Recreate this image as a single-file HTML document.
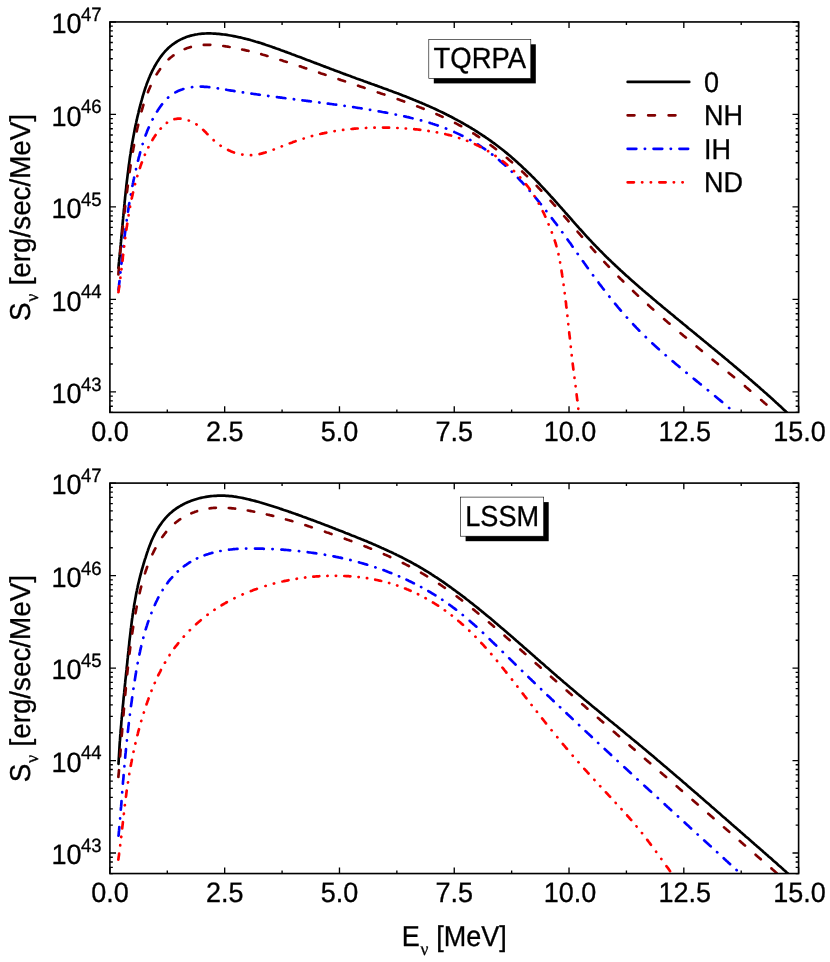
<!DOCTYPE html>
<html><head><meta charset="utf-8"><title>S_nu spectra</title>
<style>html,body{margin:0;padding:0;background:#fff}svg{display:block;will-change:transform}text{font-family:"Liberation Sans",sans-serif;fill:#000;text-rendering:geometricPrecision;stroke:#000;stroke-width:0.3px;stroke-linejoin:round}.nu{font-family:"Liberation Serif",serif}</style></head><body>
<svg width="830" height="962" viewBox="0 0 830 962">
<rect x="0" y="0" width="830" height="962" fill="#ffffff"/>
<defs>
<clipPath id="c1"><rect x="109.90" y="21.95" width="688.70" height="390.45"/></clipPath>
<clipPath id="c2"><rect x="109.90" y="483.10" width="688.70" height="390.45"/></clipPath>
</defs>
<g clip-path="url(#c1)" fill="none" stroke-width="2.68" stroke-linecap="round" stroke-linejoin="round">
<path d="M118.4 267.9 118.6 266.3 118.7 264.7 118.9 263.0 119.1 261.4 119.2 259.7 119.4 258.1 119.6 256.4 119.7 254.8 119.9 253.2 120.1 251.5 120.2 249.9 120.4 248.2 120.5 246.6 120.7 244.9 120.8 243.3 121.0 241.7 121.1 240.0 121.3 238.4 121.4 236.7 121.6 235.1 121.7 233.4 121.9 231.8 122.0 230.2 122.2 228.5 122.3 226.9 122.5 225.2 122.6 223.6 122.8 222.0 122.9 220.3 123.1 218.7 123.2 217.0 123.4 215.4 123.5 213.8 123.7 212.1 123.8 210.5 124.0 208.8 124.2 207.2 124.3 205.6 124.5 203.9 124.6 202.3 124.8 200.6 125.0 199.0 125.1 197.4 125.3 195.7 125.5 194.1 125.6 192.5 125.8 190.8 126.0 189.2 126.2 187.6 126.3 185.9 126.5 184.3 126.7 182.7 126.9 181.0 127.1 179.4 127.3 177.8 127.5 176.1 127.7 174.5 127.9 172.9 128.1 171.3 128.3 169.6 128.5 168.0 128.7 166.4 128.9 164.7 129.2 163.1 129.4 161.5 129.6 159.9 129.8 158.2 130.1 156.6 130.3 155.0 130.6 153.4 130.8 151.7 131.1 150.1 131.3 148.5 131.6 146.9 131.9 145.3 132.1 143.6 132.4 142.0 132.7 140.4 133.0 138.8 133.3 137.2 133.6 135.5 133.9 133.9 134.2 132.3 134.5 130.7 134.8 129.1 135.1 127.5 135.5 125.9 135.8 124.2 136.2 122.6 136.5 121.0 136.9 119.4 137.2 117.8 137.6 116.2 138.0 114.6 138.4 113.0 138.7 111.4 139.1 109.8 139.5 108.2 139.9 106.6 140.4 105.0 140.8 103.4 141.2 101.8 141.7 100.2 142.1 98.6 142.6 97.0 143.0 95.4 143.5 93.8 144.0 92.2 144.5 90.6 145.0 89.0 145.5 87.5 146.1 85.9 146.6 84.3 147.2 82.8 147.8 81.2 148.4 79.7 149.0 78.1 149.7 76.6 150.3 75.1 151.0 73.6 151.7 72.1 152.4 70.6 153.2 69.1 154.0 67.6 154.7 66.2 155.6 64.7 156.4 63.3 157.3 61.9 158.2 60.5 159.1 59.1 160.0 57.7 161.0 56.4 162.0 55.1 163.0 53.8 164.1 52.5 165.1 51.3 166.3 50.1 167.4 49.0 168.6 47.8 169.8 46.8 171.0 45.7 172.3 44.7 173.6 43.8 174.9 42.9 176.3 42.0 177.6 41.2 179.0 40.4 180.4 39.6 181.9 38.9 183.3 38.3 184.8 37.7 186.3 37.1 187.8 36.6 189.4 36.1 190.9 35.6 192.5 35.2 194.1 34.9 195.7 34.5 197.3 34.3 198.9 34.0 200.5 33.8 202.1 33.7 203.8 33.6 205.4 33.5 207.1 33.4 208.7 33.4 210.4 33.4 212.1 33.5 213.7 33.6 215.4 33.7 217.0 33.8 218.7 33.9 220.4 34.1 222.0 34.3 223.7 34.5 225.3 34.7 227.0 34.9 228.6 35.2 230.3 35.5 231.9 35.8 233.5 36.1 235.1 36.4 236.8 36.7 238.4 37.1 240.0 37.4 241.6 37.8 243.2 38.2 244.8 38.6 246.4 39.0 248.0 39.4 249.6 39.8 251.2 40.3 252.8 40.7 254.4 41.2 256.0 41.7 257.6 42.1 259.2 42.6 260.7 43.1 262.3 43.6 263.9 44.1 265.5 44.7 267.0 45.2 268.6 45.7 270.2 46.3 271.7 46.8 273.3 47.4 274.9 47.9 276.4 48.5 278.0 49.0 279.5 49.6 281.1 50.2 282.6 50.7 284.2 51.3 285.7 51.9 287.3 52.4 288.8 53.0 290.4 53.6 291.9 54.2 293.5 54.7 295.0 55.3 296.5 55.9 298.1 56.5 299.6 57.0 301.1 57.6 302.7 58.2 304.2 58.8 305.8 59.4 307.3 60.0 308.8 60.5 310.3 61.1 311.9 61.7 313.4 62.3 314.9 62.9 316.5 63.4 318.0 64.0 319.5 64.6 321.1 65.2 322.6 65.8 324.1 66.4 325.7 66.9 327.2 67.5 328.7 68.1 330.2 68.7 331.8 69.3 333.3 69.8 334.8 70.4 336.4 71.0 337.9 71.6 339.4 72.1 341.0 72.7 342.5 73.3 344.0 73.9 345.6 74.4 347.1 75.0 348.7 75.6 350.2 76.1 351.7 76.7 353.3 77.3 354.8 77.8 356.4 78.4 357.9 78.9 359.5 79.5 361.0 80.1 362.5 80.6 364.1 81.2 365.6 81.7 367.2 82.3 368.7 82.9 370.3 83.4 371.8 84.0 373.4 84.5 374.9 85.1 376.5 85.6 378.0 86.2 379.6 86.8 381.1 87.3 382.7 87.9 384.2 88.5 385.8 89.0 387.3 89.6 388.9 90.2 390.4 90.7 392.0 91.3 393.5 91.9 395.0 92.5 396.6 93.1 398.1 93.6 399.7 94.2 401.2 94.8 402.7 95.4 404.3 96.0 405.8 96.6 407.4 97.2 408.9 97.8 410.4 98.4 411.9 99.0 413.5 99.7 415.0 100.3 416.5 100.9 418.0 101.5 419.6 102.2 421.1 102.8 422.6 103.5 424.1 104.1 425.6 104.8 427.1 105.4 428.7 106.1 430.2 106.8 431.7 107.4 433.2 108.1 434.7 108.8 436.2 109.5 437.7 110.2 439.1 110.9 440.6 111.6 442.1 112.3 443.6 113.0 445.1 113.8 446.5 114.5 448.0 115.2 449.5 116.0 451.0 116.7 452.4 117.5 453.9 118.3 455.3 119.1 456.8 119.8 458.2 120.6 459.7 121.4 461.1 122.2 462.6 123.0 464.0 123.8 465.4 124.7 466.8 125.5 468.3 126.3 469.7 127.2 471.1 128.0 472.5 128.9 473.9 129.7 475.3 130.6 476.7 131.5 478.1 132.4 479.5 133.3 480.8 134.1 482.2 135.1 483.6 136.0 485.0 136.9 486.3 137.8 487.7 138.7 489.0 139.7 490.4 140.6 491.7 141.6 493.0 142.6 494.4 143.5 495.7 144.5 497.0 145.5 498.3 146.5 499.6 147.5 500.9 148.5 502.2 149.5 503.5 150.5 504.8 151.6 506.1 152.6 507.3 153.6 508.6 154.7 509.9 155.8 511.1 156.8 512.4 157.9 513.6 159.0 514.8 160.1 516.1 161.2 517.3 162.3 518.5 163.4 519.7 164.5 520.9 165.6 522.1 166.7 523.3 167.9 524.5 169.0 525.7 170.1 526.9 171.3 528.1 172.4 529.3 173.6 530.5 174.7 531.6 175.9 532.8 177.1 534.0 178.2 535.1 179.4 536.3 180.6 537.4 181.8 538.6 183.0 539.7 184.2 540.8 185.4 542.0 186.6 543.1 187.8 544.2 189.0 545.3 190.2 546.5 191.4 547.6 192.6 548.7 193.8 549.8 195.0 550.9 196.3 552.0 197.5 553.1 198.7 554.2 199.9 555.3 201.2 556.4 202.4 557.5 203.6 558.6 204.8 559.7 206.1 560.8 207.3 561.9 208.5 563.0 209.8 564.1 211.0 565.1 212.3 566.2 213.5 567.3 214.7 568.4 216.0 569.5 217.2 570.6 218.4 571.7 219.7 572.7 220.9 573.8 222.1 574.9 223.4 576.0 224.6 577.1 225.8 578.2 227.0 579.3 228.3 580.4 229.5 581.5 230.7 582.6 231.9 583.7 233.2 584.8 234.4 585.9 235.6 587.0 236.8 588.1 238.0 589.2 239.2 590.4 240.4 591.5 241.6 592.6 242.8 593.7 244.0 594.9 245.2 596.0 246.4 597.1 247.5 598.3 248.7 599.4 249.9 600.6 251.1 601.8 252.2 602.9 253.4 604.1 254.6 605.2 255.7 606.4 256.9 607.6 258.0 608.8 259.2 610.0 260.3 611.1 261.4 612.3 262.6 613.5 263.7 614.7 264.8 615.9 266.0 617.1 267.1 618.3 268.2 619.5 269.3 620.7 270.5 622.0 271.6 623.2 272.7 624.4 273.8 625.6 274.9 626.8 276.0 628.1 277.1 629.3 278.2 630.5 279.3 631.8 280.4 633.0 281.5 634.2 282.6 635.5 283.7 636.7 284.7 637.9 285.8 639.2 286.9 640.4 288.0 641.7 289.1 642.9 290.2 644.2 291.2 645.4 292.3 646.7 293.4 648.0 294.4 649.2 295.5 650.5 296.6 651.7 297.6 653.0 298.7 654.2 299.8 655.5 300.8 656.8 301.9 658.0 303.0 659.3 304.0 660.6 305.1 661.8 306.1 663.1 307.2 664.4 308.2 665.6 309.3 666.9 310.3 668.2 311.4 669.4 312.4 670.7 313.5 672.0 314.5 673.3 315.6 674.5 316.6 675.8 317.7 677.1 318.7 678.3 319.8 679.6 320.8 680.9 321.9 682.2 322.9 683.4 324.0 684.7 325.0 686.0 326.1 687.2 327.1 688.5 328.2 689.8 329.2 691.1 330.2 692.3 331.3 693.6 332.3 694.9 333.4 696.2 334.4 697.4 335.5 698.7 336.5 700.0 337.6 701.2 338.6 702.5 339.6 703.8 340.7 705.1 341.7 706.3 342.8 707.6 343.8 708.9 344.9 710.1 345.9 711.4 347.0 712.7 348.0 713.9 349.0 715.2 350.1 716.5 351.1 717.8 352.2 719.0 353.2 720.3 354.3 721.6 355.3 722.8 356.4 724.1 357.4 725.3 358.5 726.6 359.5 727.9 360.6 729.1 361.7 730.4 362.7 731.7 363.8 732.9 364.8 734.2 365.9 735.4 366.9 736.7 368.0 737.9 369.1 739.2 370.1 740.5 371.2 741.7 372.3 743.0 373.3 744.2 374.4 745.5 375.5 746.7 376.5 748.0 377.6 749.2 378.7 750.5 379.7 751.7 380.8 753.0 381.9 754.2 383.0 755.4 384.1 756.7 385.1 757.9 386.2 759.2 387.3 760.4 388.4 761.6 389.5 762.9 390.6 764.1 391.7 765.3 392.7 766.6 393.8 767.8 394.9 769.0 396.0 770.2 397.1 771.5 398.2 772.7 399.3 773.9 400.4 775.1 401.6 776.3 402.7 777.6 403.8 778.8 404.9 780.0 406.0 781.2 407.1 782.4 408.3 783.6 409.4 784.8 410.5 786.0 411.6 787.2 412.8 788.4 413.9 789.6 415.0 790.8 416.2 792.0 417.3" stroke="#000000"/>
<path d="M118.4 274.5 118.4 274.2 118.5 273.2 118.5 272.2 118.6 271.3 118.7 270.3 118.8 269.3 118.9 268.4 118.9 267.7M120.1 253.9 120.1 253.9 120.2 252.9 120.3 252.0 120.4 251.0 120.5 250.0 120.6 249.1 120.7 248.1 120.8 247.2M122.2 233.4 122.2 233.3 122.3 232.3 122.4 231.4 122.5 230.4 122.6 229.4 122.7 228.5 122.8 227.5 122.9 226.6M124.4 212.9 124.4 212.7 124.6 211.8 124.7 210.8 124.8 209.8 124.9 208.9 125.0 207.9 125.1 206.9 125.2 206.1M126.9 192.3 126.9 192.2 127.1 191.2 127.2 190.3 127.3 189.3 127.4 188.3 127.6 187.4 127.7 186.4 127.8 185.6M129.6 172.0 129.7 171.7 129.8 170.7 130.0 169.8 130.1 168.8 130.3 167.9 130.4 166.9 130.5 166.0 130.6 165.3M132.8 151.7 132.8 151.6 133.0 150.7 133.2 149.7 133.3 148.8 133.5 147.8 133.7 146.9 133.9 145.9 134.0 145.0M136.7 131.4 136.7 131.3 136.9 130.4 137.1 129.5 137.3 128.5 137.5 127.6 137.8 126.6 138.0 125.7 138.2 124.8M141.5 111.4 141.6 111.3 141.8 110.3 142.1 109.4 142.4 108.5 142.6 107.5 142.9 106.6 143.2 105.7 143.4 104.9M147.9 92.2 147.9 92.2 148.3 91.3 148.6 90.4 149.0 89.5 149.4 88.6 149.8 87.7 150.2 86.8 150.5 86.1M156.6 74.4 156.7 74.3 157.2 73.4 157.7 72.6 158.3 71.8 158.8 71.0 159.4 70.2 159.9 69.4 160.1 69.1M168.6 59.4 168.8 59.2 169.5 58.5 170.2 57.9 171.0 57.3 171.7 56.7 172.5 56.1 173.2 55.5 173.5 55.4M184.7 49.1 184.8 49.0 185.7 48.7 186.6 48.3 187.5 48.0 188.4 47.7 189.3 47.4 190.2 47.2 190.8 47.0M203.8 44.9 204.0 44.9 204.9 44.9 205.9 44.8 206.8 44.8 207.8 44.8 208.8 44.8 209.7 44.8 210.3 44.8M223.3 46.0 223.6 46.0 224.6 46.2 225.6 46.3 226.5 46.5 227.5 46.6 228.5 46.8 229.4 47.0 229.6 47.0M242.2 49.5 242.2 49.5 243.2 49.7 244.1 49.9 245.1 50.1 246.0 50.4 247.0 50.6 248.0 50.8 248.5 50.9M261.2 54.2 261.2 54.3 262.1 54.5 263.1 54.8 264.0 55.0 265.0 55.3 265.9 55.6 266.8 55.9 267.5 56.0M280.4 60.0 280.5 60.0 281.5 60.3 282.4 60.6 283.3 60.9 284.2 61.2 285.2 61.5 286.1 61.8 286.8 62.0M299.8 66.3 300.0 66.3 300.9 66.6 301.8 66.9 302.7 67.2 303.6 67.6 304.6 67.9 305.5 68.2 306.2 68.4M319.1 72.7 319.2 72.7 320.1 73.0 321.1 73.4 322.0 73.7 322.9 74.0 323.8 74.3 324.7 74.6 325.5 74.8M338.5 79.2 338.7 79.2 339.6 79.6 340.6 79.9 341.5 80.2 342.4 80.5 343.3 80.8 344.2 81.1 345.0 81.3M358.1 85.7 358.2 85.8 359.1 86.1 360.0 86.4 361.0 86.7 361.9 87.0 362.8 87.3 363.7 87.6 364.6 87.9M377.8 92.4 378.0 92.5 379.0 92.8 379.9 93.1 380.8 93.4 381.7 93.7 382.6 94.0 383.6 94.3 384.4 94.6M397.7 99.2 398.0 99.3 398.9 99.6 399.8 99.9 400.7 100.3 401.7 100.6 402.6 100.9 403.5 101.2 404.2 101.5M417.2 106.3 417.5 106.4 418.4 106.8 419.3 107.1 420.2 107.5 421.2 107.8 422.1 108.2 423.0 108.5 423.6 108.8M436.4 114.1 436.5 114.1 437.3 114.5 438.2 114.9 439.1 115.3 440.0 115.7 440.9 116.1 441.8 116.5 442.6 116.9M455.1 123.0 455.1 123.0 456.0 123.4 456.9 123.9 457.7 124.3 458.6 124.8 459.4 125.3 460.3 125.7 461.1 126.2 461.2 126.2M473.3 133.4 473.4 133.4 474.2 133.9 475.0 134.4 475.8 135.0 476.6 135.5 477.4 136.0 478.2 136.5 479.1 137.1 479.1 137.1M490.5 145.1 490.7 145.2 491.5 145.8 492.3 146.3 493.0 146.9 493.8 147.5 494.6 148.1 495.4 148.7 496.0 149.2M506.8 157.9 507.0 158.0 507.7 158.6 508.4 159.2 509.2 159.9 509.9 160.5 510.7 161.1 511.4 161.8 512.0 162.3M522.2 171.5 522.2 171.5 522.9 172.2 523.6 172.8 524.3 173.5 525.0 174.2 525.7 174.9 526.4 175.5 527.0 176.2M536.7 185.8 536.9 186.1 537.6 186.8 538.2 187.5 538.9 188.2 539.6 188.9 540.2 189.6 540.9 190.3 541.3 190.7M550.6 200.8 550.8 201.0 551.4 201.7 552.1 202.4 552.7 203.2 553.3 203.9 554.0 204.6 554.6 205.3 555.1 205.8M564.2 216.2 564.3 216.3 564.9 217.0 565.5 217.7 566.2 218.5 566.8 219.2 567.4 219.9 568.1 220.7 568.6 221.3M577.6 231.7 577.8 232.0 578.4 232.7 579.1 233.4 579.7 234.2 580.3 234.9 581.0 235.6 581.6 236.4 582.0 236.8M590.9 247.0 591.0 247.1 591.6 247.8 592.2 248.5 592.9 249.3 593.5 250.0 594.2 250.7 594.8 251.5 595.3 252.0M604.3 261.9 604.4 262.0 605.0 262.7 605.7 263.4 606.3 264.1 607.0 264.8 607.7 265.5 608.3 266.2 608.9 266.8M618.5 276.7 618.7 276.9 619.4 277.6 620.0 278.3 620.7 279.0 621.4 279.6 622.1 280.3 622.8 281.0 623.3 281.5M633.1 291.0 633.2 291.1 633.9 291.8 634.6 292.5 635.3 293.1 636.0 293.8 636.7 294.4 637.4 295.1 638.0 295.7M648.1 304.9 648.1 305.0 648.8 305.6 649.6 306.3 650.3 306.9 651.0 307.6 651.7 308.2 652.4 308.8 653.2 309.5 653.3 309.6M664.1 319.1 664.1 319.1 664.8 319.7 665.5 320.4 666.3 321.0 667.0 321.6 667.7 322.3 668.5 322.9 669.2 323.5 669.5 323.7M680.5 333.1 680.6 333.2 681.3 333.8 682.0 334.4 682.8 335.0 683.5 335.7 684.3 336.3 685.0 336.9 685.8 337.5 685.9 337.6M696.6 346.5 696.7 346.6 697.5 347.2 698.2 347.9 699.0 348.5 699.7 349.1 700.5 349.7 701.2 350.3 701.9 350.9M712.6 359.7 712.8 359.8 713.5 360.4 714.3 361.0 715.0 361.6 715.8 362.2 716.5 362.8 717.3 363.4 717.9 364.0M728.7 372.8 728.8 372.9 729.5 373.5 730.3 374.1 731.0 374.7 731.8 375.3 732.5 375.9 733.3 376.6 734.0 377.2 734.1 377.2M744.9 386.2 744.9 386.3 745.7 386.9 746.4 387.5 747.2 388.1 747.9 388.7 748.6 389.4 749.4 390.0 750.1 390.6 750.2 390.7M761.1 400.0 761.2 400.0 761.9 400.6 762.6 401.3 763.4 401.9 764.1 402.5 764.8 403.2 765.6 403.8 766.3 404.4 766.4 404.5M777.0 413.7 777.1 413.8 777.8 414.4 778.6 415.1 779.3 415.7 780.0 416.4 780.8 417.0 781.5 417.7 782.0 418.1" stroke="#800000"/>
<path d="M118.5 289.8 118.5 289.5 118.7 288.3 118.8 287.1 119.0 285.9 119.1 284.7 119.2 283.5 119.4 282.3 119.5 281.2M120.5 272.6 120.5 272.4 120.5 272.3M121.4 263.8 121.4 263.7 121.6 262.5 121.7 261.3 121.8 260.2 122.0 259.0 122.1 257.8 122.2 256.6 122.4 255.4 122.4 255.1M123.4 246.5 123.4 246.4 123.4 246.2M124.4 237.7 124.5 237.4 124.6 236.2 124.8 235.0 124.9 233.8 125.1 232.6 125.2 231.4 125.4 230.2 125.5 229.0M126.7 220.5 126.7 220.4 126.7 220.2M128.0 211.7 128.0 211.4 128.2 210.2 128.4 209.0 128.6 207.8 128.8 206.7 128.9 205.5 129.1 204.3 129.3 203.1M130.8 194.6 130.8 194.5 130.9 194.3M132.4 186.0 132.4 185.9 132.7 184.7 132.9 183.5 133.2 182.3 133.4 181.2 133.6 180.0 133.9 178.8 134.1 177.6 134.1 177.6M136.0 169.3 136.0 169.1 136.0 169.0M138.0 160.7 138.1 160.6 138.4 159.4 138.6 158.2 138.9 157.1 139.3 155.9 139.6 154.7 139.9 153.6 140.2 152.4 140.2 152.4M142.6 144.1 142.6 144.0 142.7 143.9M145.5 135.6 145.5 135.5 146.0 134.1 146.6 132.7 147.1 131.3 147.7 129.9 148.3 128.5 148.8 127.4M152.5 119.5 152.6 119.3 152.7 119.2M157.0 111.6 157.2 111.4 157.8 110.3 158.5 109.3 159.2 108.2 159.9 107.2 160.6 106.2 161.4 105.1 162.1 104.2M168.0 97.7 168.1 97.6 168.2 97.5M175.3 92.5 175.3 92.4 176.6 91.8 177.9 91.1 179.3 90.5 180.6 90.0 182.0 89.5 183.3 89.0 183.4 89.0M191.9 87.2 191.9 87.2 192.2 87.1 192.2 87.1M200.7 86.6 200.8 86.6 202.0 86.7 203.2 86.7 204.4 86.8 205.6 86.8 206.8 86.9 208.0 87.0 209.2 87.2 209.3 87.2M217.7 88.3 217.9 88.4 218.0 88.4M226.2 89.7 226.4 89.8 227.6 90.0 228.8 90.2 230.0 90.4 231.2 90.6 232.4 90.7 233.6 90.9 234.5 91.1M242.8 92.4 243.0 92.4 243.1 92.4M251.4 93.6 251.4 93.6 252.6 93.8 253.8 94.0 255.0 94.1 256.2 94.3 257.4 94.5 258.6 94.6 259.8 94.8 259.8 94.8M268.1 95.9 268.2 95.9 268.4 96.0M276.9 97.1 277.2 97.1 278.3 97.3 279.5 97.4 280.7 97.6 281.9 97.7 283.1 97.9 284.3 98.0 285.4 98.2M293.8 99.2 293.9 99.2 294.1 99.3M302.4 100.3 302.5 100.3 303.7 100.5 304.9 100.6 306.1 100.8 307.3 100.9 308.5 101.1 309.7 101.2 310.9 101.4 310.9 101.4M319.2 102.4 319.5 102.5 319.5 102.5M327.8 103.6 327.8 103.6 329.0 103.7 330.2 103.9 331.4 104.0 332.6 104.2 333.8 104.4 335.0 104.5 336.1 104.7 336.2 104.7M344.5 105.8 344.5 105.8 344.7 105.9M353.1 107.1 353.4 107.1 354.5 107.3 355.7 107.5 356.9 107.7 358.1 107.9 359.3 108.0 360.5 108.2 361.6 108.4M369.9 109.8 370.0 109.8 370.2 109.8M378.6 111.3 378.9 111.3 380.0 111.5 381.2 111.7 382.4 112.0 383.6 112.2 384.8 112.4 386.0 112.6 387.1 112.8 387.2 112.8M395.6 114.5 395.7 114.5 395.9 114.6M404.2 116.3 404.3 116.3 405.5 116.6 406.7 116.9 407.9 117.1 409.1 117.4 410.2 117.7 411.4 118.0 412.6 118.2 412.6 118.3M420.9 120.4 421.1 120.4 421.2 120.4M429.5 122.8 429.6 122.8 430.7 123.2 431.9 123.5 433.0 123.9 434.2 124.3 435.3 124.7 436.5 125.0 437.6 125.4 437.8 125.5M445.9 128.5 446.2 128.6 446.2 128.6M454.3 132.0 454.5 132.1 455.6 132.6 456.7 133.1 457.8 133.6 458.9 134.1 460.0 134.6 461.1 135.2 462.2 135.7 462.4 135.8M470.2 139.9 470.4 140.1 470.4 140.1M477.9 144.5 477.9 144.5 479.2 145.3 480.4 146.1 481.7 147.0 482.9 147.8 484.2 148.6 485.2 149.3M492.1 154.5 492.4 154.6 492.4 154.7M499.0 160.0 499.1 160.1 500.0 160.9 500.9 161.7 501.8 162.4 502.7 163.2 503.6 164.0 504.5 164.8 505.4 165.6 505.5 165.7M511.7 171.6 511.7 171.6 511.9 171.8M517.9 177.9 518.1 178.0 518.9 178.9 519.7 179.8 520.5 180.7 521.4 181.5 522.2 182.4 523.0 183.3 523.8 184.2 523.9 184.3M529.6 190.7 529.6 190.8 529.8 190.9M535.4 197.5 535.5 197.7 536.3 198.6 537.1 199.5 537.8 200.5 538.6 201.4 539.4 202.4 540.1 203.3 540.9 204.2M546.3 211.0 546.4 211.1 546.4 211.2M551.8 218.1 551.9 218.3 552.7 219.3 553.4 220.2 554.1 221.2 554.8 222.2 555.6 223.1 556.3 224.1 557.0 225.1 557.1 225.1M562.2 232.2 562.4 232.4 562.4 232.4M567.5 239.5 567.7 239.7 568.4 240.7 569.1 241.7 569.8 242.6 570.5 243.6 571.2 244.6 571.8 245.6 572.5 246.6 572.6 246.7M577.6 253.8 577.7 253.9 577.8 254.0M582.8 261.1 583.0 261.3 583.7 262.3 584.4 263.3 585.1 264.2 585.8 265.2 586.5 266.2 587.2 267.2 587.9 268.1 587.9 268.2M593.0 275.2 593.2 275.4 593.2 275.5M598.5 282.5 598.6 282.7 599.3 283.7 600.0 284.6 600.8 285.6 601.5 286.5 602.2 287.5 603.0 288.5 603.7 289.4 603.9 289.6M609.3 296.5 609.5 296.8 609.5 296.8M615.1 303.7 615.2 303.8 616.1 304.9 617.1 306.1 618.0 307.3 619.0 308.4 620.0 309.6 620.9 310.7M626.8 317.4 626.9 317.5 627.1 317.6M633.1 324.2 633.2 324.4 634.3 325.5 635.3 326.5 636.3 327.6 637.4 328.7 638.4 329.8 639.3 330.7M645.7 337.0 645.7 337.0 645.9 337.2M652.3 343.3 652.5 343.4 653.6 344.4 654.7 345.5 655.8 346.5 656.9 347.5 658.0 348.5 658.9 349.3M665.6 355.2 665.7 355.3 665.8 355.4M672.6 361.2 672.8 361.4 673.8 362.1 674.7 362.9 675.6 363.7 676.5 364.5 677.5 365.3 678.4 366.0 679.3 366.8 679.5 367.0M686.4 372.7 686.5 372.8 686.7 372.9M693.7 378.6 693.8 378.7 694.9 379.6 696.1 380.6 697.3 381.6 698.5 382.5 699.6 383.5 700.8 384.4M707.8 390.1 708.1 390.3 708.1 390.3M715.1 396.1 715.3 396.3 716.4 397.2 717.6 398.2 718.8 399.2 719.9 400.1 721.1 401.1 722.2 402.0M729.1 407.9 729.1 407.9 729.3 408.1M736.1 414.0 736.1 414.0 736.8 414.6 737.4 415.2 738.1 415.8 738.8 416.4 739.5 417.0 740.1 417.6 740.8 418.2 741.0 418.4" stroke="#0000ff"/>
<path d="M118.4 292.2 118.5 292.0 118.6 291.2 118.7 290.4 118.8 289.6 118.9 288.8 119.0 288.0 119.2 287.1 119.3 286.3 119.3 286.2M120.4 277.9 120.4 277.8 120.4 277.6M121.4 269.4 121.5 269.1 121.5 269.1M122.5 260.8 122.5 260.8 122.6 260.0 122.7 259.1 122.8 258.3 122.8 257.5 122.9 256.7 123.0 255.9 123.1 255.1 123.2 254.7M124.2 246.6 124.2 246.4 124.2 246.3M125.2 238.2 125.3 238.0 125.3 237.9M126.4 229.8 126.4 229.6 126.5 228.8 126.6 228.0 126.7 227.2 126.9 226.4 127.0 225.6 127.1 224.8 127.2 224.0 127.3 223.7M128.6 215.5 128.6 215.4 128.6 215.2M130.1 207.0 130.1 206.8 130.1 206.7M131.7 198.5 131.8 198.3 131.9 197.5 132.1 196.7 132.3 195.9 132.5 195.1 132.6 194.3 132.8 193.5 133.0 192.7 133.1 192.5M135.0 184.4 135.1 184.3 135.1 184.1M137.3 176.2 137.3 176.2 137.4 175.9 137.4 175.9M139.9 168.1 139.9 167.9 140.2 167.2 140.4 166.4 140.7 165.6 141.0 164.8 141.2 164.1 141.5 163.3 141.8 162.6 141.9 162.4M144.8 154.9 144.9 154.7 144.9 154.7M148.3 147.4 148.3 147.3 148.5 147.1M152.4 140.1 152.5 139.8 152.9 139.1 153.4 138.4 153.8 137.7 154.3 137.0 154.7 136.3 155.2 135.6 155.6 135.0M160.6 128.7 160.7 128.6 160.8 128.5M166.8 122.9 166.9 122.9 167.0 122.8M174.4 119.2 174.5 119.2 175.5 119.0 176.6 118.8 177.6 118.7 178.7 118.7 179.7 118.7 180.5 118.7M188.7 120.5 188.8 120.5 188.9 120.6M196.4 124.3 196.6 124.5 196.6 124.5M203.1 129.8 203.1 129.8 203.9 130.5 204.6 131.3 205.4 132.0 206.2 132.8 206.9 133.6 207.5 134.2M213.6 140.2 213.6 140.3 213.8 140.4M220.5 145.6 220.6 145.7 220.7 145.8M228.1 150.0 228.2 150.1 229.0 150.4 229.7 150.8 230.5 151.1 231.2 151.4 232.0 151.7 232.7 152.0 233.5 152.3 234.0 152.5M242.2 154.6 242.4 154.6 242.5 154.6M250.9 155.2 250.9 155.2 251.2 155.2 251.2 155.2M259.6 154.0 259.9 153.9 260.6 153.8 261.4 153.6 262.2 153.4 263.0 153.1 263.8 152.9 264.6 152.7 265.3 152.5 265.7 152.4M273.6 149.6 273.7 149.5 273.9 149.5M281.7 146.4 281.7 146.4 281.9 146.3 281.9 146.3M289.8 143.3 289.9 143.2 290.7 143.0 291.5 142.7 292.3 142.4 293.0 142.1 293.8 141.8 294.6 141.6 295.4 141.3 295.6 141.2M303.6 138.6 303.7 138.5 303.8 138.5M311.8 136.1 312.0 136.1 312.1 136.0M320.2 134.0 320.4 134.0 321.2 133.8 322.0 133.6 322.8 133.4 323.6 133.3 324.4 133.1 325.2 132.9 326.0 132.8 326.3 132.7M334.5 131.2 334.5 131.2 334.7 131.1 334.8 131.1M343.0 129.9 343.0 129.9 343.3 129.9M351.5 129.0 351.6 129.0 352.4 128.9 353.3 128.8 354.1 128.7 354.9 128.7 355.7 128.6 356.5 128.5 357.3 128.5 357.7 128.5M365.9 128.0 366.0 128.0 366.2 127.9M374.4 127.7 374.7 127.7 374.7 127.7M383.0 127.6 383.1 127.6 383.9 127.7 384.8 127.7 385.6 127.7 386.4 127.7 387.2 127.7 388.0 127.7 388.9 127.7 389.1 127.7M397.3 128.0 397.3 128.0 397.6 128.0M405.7 128.5 405.8 128.5 406.0 128.5M414.2 129.2 414.3 129.2 415.1 129.3 415.9 129.4 416.8 129.4 417.6 129.5 418.4 129.6 419.2 129.7 420.0 129.8 420.3 129.8M428.4 130.9 428.7 131.0 428.7 131.0M436.8 132.3 437.0 132.4 437.1 132.4M445.2 134.1 445.3 134.1 446.0 134.3 446.8 134.5 447.6 134.7 448.4 134.9 449.2 135.1 450.0 135.3 450.8 135.5 451.1 135.6M459.0 138.0 459.1 138.0 459.3 138.1M467.0 140.8 467.2 140.9 467.3 140.9M474.9 144.2 474.9 144.2 475.7 144.5 476.4 144.9 477.1 145.2 477.9 145.6 478.6 145.9 479.3 146.3 480.0 146.7 480.5 146.9M488.0 151.1 488.1 151.2 488.2 151.2M495.4 155.8 495.5 155.9 495.6 156.0M502.5 161.0 502.5 161.1 503.4 161.8 504.2 162.4 505.1 163.1 505.9 163.8 506.8 164.5 507.4 165.1M513.8 170.9 513.9 171.0 514.1 171.1M520.1 177.3 520.2 177.4 520.3 177.6M525.9 184.2 526.0 184.3 526.5 184.9 527.0 185.6 527.5 186.2 528.0 186.8 528.5 187.5 529.0 188.2 529.4 188.8 529.8 189.2M534.4 196.1 534.5 196.2 534.6 196.3M538.8 203.5 538.9 203.6 538.9 203.7M542.7 211.1 542.8 211.3 543.2 212.0 543.5 212.7 543.9 213.5 544.2 214.2 544.6 215.0 544.9 215.7 545.2 216.4 545.4 216.7M548.6 224.3 548.7 224.4 548.7 224.6M551.8 232.3 551.8 232.4 551.9 232.6M554.7 240.4 554.8 240.7 555.0 241.4 555.3 242.2 555.5 243.0 555.8 243.8 556.0 244.6 556.2 245.4 556.5 246.2 556.5 246.3M558.5 254.1 558.5 254.4 558.5 254.4M560.1 262.3 560.1 262.4 560.1 262.6M561.5 270.6 561.5 270.7 561.6 271.5 561.7 272.3 561.9 273.1 562.0 273.9 562.1 274.7 562.2 275.5 562.4 276.3 562.4 276.6M563.6 284.7 563.6 284.9 563.6 285.0M564.7 293.0 564.7 293.2 564.7 293.3M565.7 301.4 565.8 301.6 565.9 302.4 566.0 303.2 566.1 304.0 566.1 304.8 566.2 305.6 566.3 306.4 566.4 307.2 566.5 307.5M567.4 315.6 567.4 315.6 567.4 315.9 567.4 315.9M568.3 324.0 568.3 324.0 568.3 324.3 568.3 324.3M569.2 332.4 569.2 332.6 569.3 333.5 569.4 334.3 569.5 335.1 569.6 335.9 569.7 336.7 569.8 337.5 569.9 338.3 569.9 338.5M570.8 346.6 570.8 346.7 570.8 346.9M571.7 355.1 571.7 355.1 571.7 355.4M572.7 363.5 572.7 363.8 572.8 364.6 572.9 365.4 573.0 366.2 573.1 367.0 573.2 367.8 573.3 368.7 573.4 369.5 573.4 369.6M574.5 377.7 574.5 377.9 574.5 378.0M575.6 386.0 575.6 386.2 575.6 386.3M576.6 394.4 576.6 394.6 576.7 395.4 576.8 396.2 576.9 397.1 577.0 397.9 577.1 398.7 577.2 399.5 577.3 400.3 577.4 400.4M578.3 408.5 578.3 408.7 578.3 408.8M579.2 417.0 579.2 417.0 579.2 417.2" stroke="#ff0000"/>
</g>
<path d="M109.90 412.40 v-6.10 M109.90 21.95 v6.10 M167.29 412.40 v-2.95 M167.29 21.95 v2.95 M224.68 412.40 v-6.10 M224.68 21.95 v6.10 M282.08 412.40 v-2.95 M282.08 21.95 v2.95 M339.47 412.40 v-6.10 M339.47 21.95 v6.10 M396.86 412.40 v-2.95 M396.86 21.95 v2.95 M454.25 412.40 v-6.10 M454.25 21.95 v6.10 M511.64 412.40 v-2.95 M511.64 21.95 v2.95 M569.03 412.40 v-6.10 M569.03 21.95 v6.10 M626.42 412.40 v-2.95 M626.42 21.95 v2.95 M683.82 412.40 v-6.10 M683.82 21.95 v6.10 M741.21 412.40 v-2.95 M741.21 21.95 v2.95 M798.60 412.40 v-6.10 M798.60 21.95 v6.10 M109.90 412.40 h2.95 M798.60 412.40 h-2.95 M109.90 406.21 h2.95 M798.60 406.21 h-2.95 M109.90 400.85 h2.95 M798.60 400.85 h-2.95 M109.90 396.11 h2.95 M798.60 396.11 h-2.95 M109.90 391.88 h6.10 M798.60 391.88 h-6.10 M109.90 364.04 h2.95 M798.60 364.04 h-2.95 M109.90 347.76 h2.95 M798.60 347.76 h-2.95 M109.90 336.20 h2.95 M798.60 336.20 h-2.95 M109.90 327.24 h2.95 M798.60 327.24 h-2.95 M109.90 319.92 h2.95 M798.60 319.92 h-2.95 M109.90 313.73 h2.95 M798.60 313.73 h-2.95 M109.90 308.36 h2.95 M798.60 308.36 h-2.95 M109.90 303.63 h2.95 M798.60 303.63 h-2.95 M109.90 299.40 h6.10 M798.60 299.40 h-6.10 M109.90 271.56 h2.95 M798.60 271.56 h-2.95 M109.90 255.27 h2.95 M798.60 255.27 h-2.95 M109.90 243.72 h2.95 M798.60 243.72 h-2.95 M109.90 234.76 h2.95 M798.60 234.76 h-2.95 M109.90 227.43 h2.95 M798.60 227.43 h-2.95 M109.90 221.24 h2.95 M798.60 221.24 h-2.95 M109.90 215.88 h2.95 M798.60 215.88 h-2.95 M109.90 211.15 h2.95 M798.60 211.15 h-2.95 M109.90 206.92 h6.10 M798.60 206.92 h-6.10 M109.90 179.08 h2.95 M798.60 179.08 h-2.95 M109.90 162.79 h2.95 M798.60 162.79 h-2.95 M109.90 151.24 h2.95 M798.60 151.24 h-2.95 M109.90 142.27 h2.95 M798.60 142.27 h-2.95 M109.90 134.95 h2.95 M798.60 134.95 h-2.95 M109.90 128.76 h2.95 M798.60 128.76 h-2.95 M109.90 123.40 h2.95 M798.60 123.40 h-2.95 M109.90 118.66 h2.95 M798.60 118.66 h-2.95 M109.90 114.43 h6.10 M798.60 114.43 h-6.10 M109.90 86.59 h2.95 M798.60 86.59 h-2.95 M109.90 70.31 h2.95 M798.60 70.31 h-2.95 M109.90 58.75 h2.95 M798.60 58.75 h-2.95 M109.90 49.79 h2.95 M798.60 49.79 h-2.95 M109.90 42.47 h2.95 M798.60 42.47 h-2.95 M109.90 36.28 h2.95 M798.60 36.28 h-2.95 M109.90 30.91 h2.95 M798.60 30.91 h-2.95 M109.90 26.18 h2.95 M798.60 26.18 h-2.95 M109.90 21.95 h6.10 M798.60 21.95 h-6.10" stroke="#000" stroke-width="1.35" fill="none"/>
<rect x="109.90" y="21.95" width="688.70" height="390.45" fill="none" stroke="#000" stroke-width="1.62"/>
<text transform="translate(109.90 440.60) scale(1 1.040)" font-size="27.00" text-anchor="middle">0.0</text>
<text transform="translate(224.68 440.60) scale(1 1.040)" font-size="27.00" text-anchor="middle">2.5</text>
<text transform="translate(339.47 440.60) scale(1 1.040)" font-size="27.00" text-anchor="middle">5.0</text>
<text transform="translate(454.25 440.60) scale(1 1.040)" font-size="27.00" text-anchor="middle">7.5</text>
<text transform="translate(570.03 440.60) scale(1 1.040)" font-size="27.00" text-anchor="middle">10.0</text>
<text transform="translate(684.82 440.60) scale(1 1.040)" font-size="27.00" text-anchor="middle">12.5</text>
<text transform="translate(799.60 440.60) scale(1 1.040)" font-size="27.00" text-anchor="middle">15.0</text>
<text transform="translate(101.60 403.18) scale(1 1.040)" font-size="27.00" text-anchor="end">10<tspan font-size="18.50" dy="-11.9" dx="-0.5">43</tspan></text>
<text transform="translate(101.60 310.70) scale(1 1.040)" font-size="27.00" text-anchor="end">10<tspan font-size="18.50" dy="-11.9" dx="-0.5">44</tspan></text>
<text transform="translate(101.60 218.22) scale(1 1.040)" font-size="27.00" text-anchor="end">10<tspan font-size="18.50" dy="-11.9" dx="-0.5">45</tspan></text>
<text transform="translate(101.60 125.73) scale(1 1.040)" font-size="27.00" text-anchor="end">10<tspan font-size="18.50" dy="-11.9" dx="-0.5">46</tspan></text>
<text transform="translate(101.60 33.25) scale(1 1.040)" font-size="27.00" text-anchor="end">10<tspan font-size="18.50" dy="-11.9" dx="-0.5">47</tspan></text>
<text transform="translate(29.90 217.47) scale(1.065 1.029) rotate(-90)" font-size="27.00" text-anchor="middle">S<tspan class="nu" font-size="17.50" dy="7.8" dx="0.6">ν</tspan><tspan dy="-7.8" dx="0.6"> [erg/sec/MeV]</tspan></text>
<rect x="433.80" y="44.30" width="102.00" height="39.10" fill="#000"/>
<rect x="428.80" y="39.30" width="102.00" height="39.10" fill="#fff" stroke="#000" stroke-width="0.6"/>
<text transform="translate(479.80 68.10) scale(1 1.065)" font-size="27.46" text-anchor="middle">TQRPA</text>
<g clip-path="url(#c2)" fill="none" stroke-width="2.68" stroke-linecap="round" stroke-linejoin="round">
<path d="M118.5 763.8 118.6 762.1 118.7 760.4 118.8 758.7 118.9 757.0 119.0 755.3 119.1 753.7 119.2 752.0 119.3 750.3 119.4 748.6 119.5 746.9 119.6 745.2 119.7 743.5 119.8 741.8 120.0 740.2 120.1 738.5 120.2 736.8 120.3 735.1 120.5 733.4 120.6 731.7 120.7 730.0 120.9 728.3 121.0 726.6 121.2 725.0 121.3 723.3 121.4 721.6 121.6 719.9 121.7 718.2 121.9 716.5 122.0 714.8 122.2 713.1 122.4 711.4 122.5 709.8 122.7 708.1 122.8 706.4 123.0 704.7 123.2 703.0 123.3 701.3 123.5 699.6 123.6 697.9 123.8 696.2 124.0 694.5 124.2 692.9 124.3 691.2 124.5 689.5 124.7 687.8 124.8 686.1 125.0 684.4 125.2 682.7 125.3 681.0 125.5 679.4 125.7 677.7 125.9 676.0 126.0 674.3 126.2 672.6 126.4 670.9 126.6 669.2 126.7 667.5 126.9 665.9 127.1 664.2 127.3 662.5 127.4 660.8 127.6 659.1 127.8 657.4 127.9 655.8 128.1 654.1 128.3 652.4 128.5 650.7 128.6 649.0 128.8 647.3 129.0 645.7 129.2 644.0 129.3 642.3 129.5 640.6 129.7 638.9 129.9 637.3 130.1 635.6 130.3 633.9 130.5 632.2 130.7 630.6 130.8 628.9 131.1 627.2 131.3 625.5 131.5 623.9 131.7 622.2 131.9 620.5 132.1 618.8 132.4 617.2 132.6 615.5 132.8 613.8 133.1 612.2 133.3 610.5 133.6 608.8 133.9 607.2 134.1 605.5 134.4 603.8 134.7 602.2 135.0 600.5 135.3 598.8 135.6 597.2 135.9 595.5 136.2 593.8 136.5 592.2 136.9 590.5 137.2 588.9 137.6 587.2 137.9 585.5 138.3 583.9 138.7 582.2 139.1 580.6 139.5 578.9 139.9 577.3 140.3 575.6 140.8 574.0 141.2 572.3 141.6 570.7 142.1 569.0 142.6 567.4 143.1 565.7 143.5 564.1 144.0 562.5 144.5 560.8 145.0 559.2 145.6 557.6 146.1 555.9 146.6 554.3 147.1 552.7 147.7 551.1 148.2 549.5 148.8 547.9 149.4 546.3 150.0 544.8 150.6 543.2 151.2 541.6 151.9 540.0 152.6 538.5 153.3 537.0 154.1 535.4 154.8 533.9 155.6 532.4 156.5 530.9 157.3 529.4 158.2 528.0 159.1 526.5 160.1 525.1 161.1 523.7 162.1 522.3 163.1 521.0 164.2 519.7 165.2 518.4 166.4 517.1 167.5 515.9 168.7 514.7 169.9 513.6 171.2 512.5 172.4 511.4 173.7 510.4 175.1 509.4 176.4 508.4 177.8 507.5 179.2 506.6 180.6 505.8 182.1 505.0 183.5 504.2 185.0 503.4 186.5 502.7 188.1 502.0 189.6 501.4 191.2 500.8 192.8 500.2 194.3 499.7 196.0 499.2 197.6 498.7 199.2 498.3 200.9 497.9 202.5 497.5 204.2 497.2 205.9 496.9 207.5 496.6 209.2 496.4 210.9 496.2 212.6 496.0 214.3 495.9 216.0 495.8 217.7 495.7 219.4 495.7 221.2 495.6 222.9 495.7 224.6 495.7 226.3 495.8 228.0 495.9 229.7 496.1 231.4 496.2 233.1 496.4 234.8 496.7 236.5 496.9 238.1 497.2 239.8 497.5 241.5 497.8 243.2 498.1 244.8 498.5 246.5 498.9 248.1 499.2 249.8 499.6 251.4 500.1 253.1 500.5 254.7 500.9 256.4 501.4 258.0 501.8 259.7 502.3 261.3 502.7 262.9 503.2 264.6 503.7 266.2 504.2 267.8 504.7 269.4 505.2 271.0 505.7 272.7 506.2 274.3 506.8 275.9 507.3 277.5 507.8 279.1 508.3 280.7 508.9 282.3 509.4 283.9 510.0 285.5 510.5 287.1 511.0 288.7 511.6 290.3 512.1 291.9 512.7 293.5 513.3 295.1 513.8 296.7 514.4 298.3 514.9 299.8 515.5 301.4 516.1 303.0 516.7 304.6 517.2 306.2 517.8 307.8 518.4 309.3 519.0 310.9 519.6 312.5 520.1 314.1 520.7 315.6 521.3 317.2 521.9 318.8 522.5 320.4 523.1 321.9 523.7 323.5 524.3 325.1 524.9 326.7 525.5 328.2 526.1 329.8 526.7 331.4 527.3 333.0 527.9 334.6 528.5 336.1 529.2 337.7 529.8 339.3 530.4 340.9 531.0 342.4 531.6 344.0 532.2 345.6 532.9 347.2 533.5 348.7 534.1 350.3 534.7 351.9 535.4 353.5 536.0 355.1 536.6 356.6 537.3 358.2 537.9 359.8 538.5 361.4 539.2 362.9 539.8 364.5 540.5 366.1 541.1 367.7 541.8 369.2 542.4 370.8 543.1 372.4 543.8 373.9 544.4 375.5 545.1 377.0 545.8 378.6 546.5 380.2 547.2 381.7 547.9 383.3 548.6 384.8 549.3 386.4 550.0 387.9 550.7 389.4 551.4 391.0 552.1 392.5 552.8 394.1 553.6 395.6 554.3 397.1 555.1 398.6 555.8 400.1 556.6 401.7 557.3 403.2 558.1 404.7 558.9 406.2 559.7 407.7 560.5 409.2 561.2 410.7 562.0 412.2 562.9 413.6 563.7 415.1 564.5 416.6 565.3 418.1 566.2 419.5 567.0 421.0 567.9 422.4 568.7 423.9 569.6 425.3 570.5 426.8 571.4 428.2 572.2 429.7 573.1 431.1 574.0 432.5 575.0 433.9 575.9 435.3 576.8 436.8 577.7 438.2 578.7 439.6 579.6 441.0 580.5 442.4 581.5 443.8 582.4 445.1 583.4 446.5 584.4 447.9 585.4 449.3 586.3 450.7 587.3 452.0 588.3 453.4 589.3 454.8 590.3 456.1 591.3 457.5 592.3 458.9 593.3 460.2 594.3 461.6 595.3 462.9 596.4 464.3 597.4 465.6 598.4 466.9 599.5 468.3 600.5 469.6 601.6 470.9 602.6 472.3 603.6 473.6 604.7 474.9 605.8 476.2 606.8 477.6 607.9 478.9 608.9 480.2 610.0 481.5 611.1 482.8 612.1 484.1 613.2 485.4 614.3 486.7 615.4 488.1 616.5 489.4 617.5 490.7 618.6 492.0 619.7 493.3 620.8 494.6 621.9 495.8 623.0 497.1 624.1 498.4 625.2 499.7 626.3 501.0 627.4 502.3 628.5 503.6 629.6 504.9 630.7 506.2 631.8 507.5 632.9 508.7 634.0 510.0 635.1 511.3 636.2 512.6 637.3 513.9 638.4 515.1 639.5 516.4 640.7 517.7 641.8 519.0 642.9 520.2 644.0 521.5 645.1 522.8 646.2 524.1 647.4 525.4 648.5 526.6 649.6 527.9 650.7 529.2 651.8 530.4 652.9 531.7 654.1 533.0 655.2 534.3 656.3 535.5 657.4 536.8 658.5 538.1 659.7 539.4 660.8 540.6 661.9 541.9 663.0 543.2 664.1 544.5 665.2 545.7 666.4 547.0 667.5 548.3 668.6 549.6 669.7 550.8 670.8 552.1 671.9 553.4 673.1 554.7 674.2 556.0 675.3 557.2 676.4 558.5 677.5 559.8 678.6 561.1 679.7 562.4 680.8 563.6 681.9 564.9 683.0 566.2 684.1 567.5 685.2 568.8 686.3 570.1 687.4 571.4 688.5 572.7 689.6 574.0 690.7 575.3 691.8 576.6 692.9 577.8 694.0 579.1 695.1 580.4 696.1 581.7 697.2 583.0 698.3 584.3 699.4 585.6 700.5 586.9 701.6 588.2 702.6 589.5 703.7 590.8 704.8 592.1 705.9 593.4 707.0 594.7 708.1 596.1 709.1 597.4 710.2 598.7 711.3 600.0 712.4 601.3 713.4 602.6 714.5 603.9 715.6 605.2 716.7 606.5 717.7 607.8 718.8 609.1 719.9 610.4 721.0 611.7 722.0 613.0 723.1 614.3 724.2 615.7 725.3 617.0 726.3 618.3 727.4 619.6 728.5 620.9 729.6 622.2 730.6 623.5 731.7 624.8 732.8 626.1 733.9 627.4 735.0 628.7 736.0 630.0 737.1 631.3 738.2 632.6 739.3 633.9 740.3 635.2 741.4 636.6 742.5 637.9 743.6 639.2 744.7 640.5 745.8 641.8 746.8 643.1 747.9 644.4 749.0 645.7 750.1 647.0 751.2 648.3 752.3 649.6 753.4 650.9 754.4 652.2 755.5 653.5 756.6 654.8 757.7 656.1 758.8 657.3 759.9 658.6 761.0 659.9 762.1 661.2 763.2 662.5 764.3 663.8 765.4 665.1 766.5 666.4 767.6 667.7 768.7 669.0 769.8 670.3 770.9 671.6 772.0 672.8 773.1 674.1 774.2 675.4 775.3 676.7 776.4 678.0 777.5 679.3 778.6 680.6 779.7 681.9 780.8 683.1 781.9 684.4 783.0 685.7 784.1 687.0 785.3 688.3 786.4 689.6 787.5 690.8 788.6 692.1 789.7 693.4 790.8 694.7 791.9 696.0 793.0 697.3 794.1 698.5 795.2 699.8 796.3 701.1 797.5 702.4 798.6 703.7 799.7 704.9 800.8 706.2 801.9 707.5 803.0 708.8 804.1 710.1 805.2 711.3 806.4 712.6 807.5 713.9 808.6 715.2 809.7 716.4 810.8 717.7 811.9 719.0 813.0 720.3 814.1 721.5 815.3 722.8 816.4 724.1 817.5 725.4 818.6 726.6 819.7 727.9 820.8 729.2 821.9 730.5 823.1 731.7 824.2 733.0 825.3 734.3 826.4 735.6 827.5 736.8 828.6 738.1 829.7 739.4 830.8 740.6 832.0 741.9 833.1 743.2 834.2 744.5 835.3 745.7 836.4 747.0 837.5 748.3 838.6 749.6 839.7 750.8 840.8 752.1 841.9 753.4 843.1 754.6 844.2 755.9 845.3 757.2 846.4 758.5 847.5 759.7 848.6 761.0 849.7 762.3 850.8 763.5 851.9 764.8 853.0 766.1 854.2 767.4 855.3 768.6 856.4 769.9 857.5 771.2 858.6 772.4 859.7 773.7 860.9 775.0 862.0 776.3 863.1 777.5 864.2 778.8 865.4 780.1 866.5 781.3 867.6 782.6 868.7 783.9 869.9 785.2 871.0 786.4 872.2 787.7 873.3 789.0 874.4 790.3 875.6 791.5 876.7 792.8 877.9 794.1 879.1" stroke="#000000"/>
<path d="M118.4 776.9 118.4 776.5 118.5 775.5 118.6 774.6 118.7 773.6 118.8 772.6 118.9 771.6 118.9 770.6 119.0 770.2M120.1 756.5 120.1 756.3 120.2 755.3 120.3 754.3 120.3 753.3 120.4 752.3 120.5 751.3 120.6 750.3 120.6 749.7M121.7 735.9 121.7 735.7 121.8 734.7 121.9 733.7 122.0 732.7 122.1 731.7 122.1 730.7 122.2 729.7 122.3 729.1M123.4 715.4 123.4 715.4 123.5 714.4 123.6 713.4 123.7 712.4 123.7 711.4 123.8 710.4 123.9 709.4 124.0 708.6M125.2 694.9 125.2 694.8 125.3 693.8 125.4 692.8 125.5 691.8 125.6 690.8 125.7 689.8 125.8 688.8 125.8 688.1M127.2 674.3 127.2 674.2 127.3 673.2 127.4 672.2 127.5 671.2 127.6 670.2 127.7 669.2 127.8 668.2 127.9 667.6M129.4 653.9 129.5 653.6 129.6 652.6 129.7 651.6 129.9 650.7 130.0 649.7 130.1 648.7 130.2 647.7 130.3 647.2M132.2 633.6 132.2 633.5 132.3 632.5 132.5 631.5 132.6 630.5 132.8 629.5 132.9 628.5 133.1 627.6 133.2 626.9M135.5 613.3 135.5 613.1 135.7 612.1 135.9 611.1 136.1 610.1 136.2 609.2 136.4 608.2 136.6 607.2 136.7 606.6M139.6 593.2 139.6 592.8 139.9 591.9 140.1 590.9 140.3 589.9 140.6 588.9 140.8 588.0 141.1 587.0 141.2 586.6M145.0 573.3 145.0 573.2 145.3 572.3 145.6 571.3 146.0 570.4 146.3 569.4 146.6 568.5 146.9 567.5 147.2 566.9M152.4 554.3 152.4 554.2 152.9 553.3 153.3 552.4 153.8 551.5 154.2 550.6 154.7 549.7 155.1 548.8 155.4 548.3M162.2 537.1 162.3 537.0 162.9 536.2 163.5 535.4 164.1 534.6 164.7 533.8 165.3 533.0 166.0 532.3 166.1 532.0M175.2 523.0 175.3 522.9 176.0 522.3 176.8 521.7 177.6 521.1 178.4 520.5 179.2 519.9 180.0 519.4 180.2 519.2M191.3 513.3 191.4 513.3 192.3 512.9 193.3 512.5 194.2 512.2 195.1 511.8 196.1 511.5 197.0 511.2 197.1 511.2M209.6 508.4 209.7 508.4 210.7 508.2 211.7 508.1 212.7 508.0 213.7 507.9 214.7 507.9 215.7 507.8 215.9 507.8M228.8 508.0 229.0 508.0 230.0 508.1 231.0 508.2 232.0 508.3 233.1 508.4 234.1 508.5 235.1 508.6 235.1 508.6M247.8 510.5 248.1 510.5 249.1 510.7 250.1 510.9 251.0 511.1 252.0 511.3 253.0 511.5 254.0 511.6 254.1 511.7M266.9 514.4 267.0 514.5 268.0 514.7 269.0 514.9 270.0 515.2 270.9 515.4 271.9 515.6 272.9 515.9 273.2 515.9M286.0 519.4 286.3 519.5 287.3 519.7 288.2 520.0 289.2 520.3 290.1 520.6 291.1 520.8 292.0 521.1 292.4 521.2M305.4 525.2 305.7 525.3 306.6 525.6 307.5 525.9 308.5 526.2 309.4 526.5 310.4 526.8 311.3 527.2 311.8 527.3M325.0 531.7 325.2 531.8 326.2 532.2 327.1 532.5 328.1 532.8 329.0 533.1 330.0 533.5 330.9 533.8 331.5 534.0M344.8 538.7 344.8 538.7 345.8 539.1 346.7 539.4 347.7 539.8 348.6 540.1 349.6 540.5 350.5 540.8 351.3 541.1M364.5 546.1 364.7 546.2 365.6 546.6 366.6 546.9 367.5 547.3 368.4 547.7 369.4 548.1 370.3 548.4 371.0 548.7M383.9 554.2 384.2 554.3 385.1 554.7 386.1 555.1 387.0 555.5 387.9 555.9 388.8 556.3 389.7 556.7 390.2 557.0M402.8 563.0 403.0 563.0 403.8 563.5 404.7 563.9 405.6 564.4 406.5 564.8 407.4 565.3 408.3 565.7 408.9 566.1M421.1 572.7 421.3 572.9 422.1 573.4 423.0 573.8 423.9 574.3 424.7 574.8 425.6 575.4 426.4 575.9 427.1 576.3M439.1 583.9 439.2 584.0 440.1 584.5 440.9 585.1 441.7 585.6 442.5 586.2 443.3 586.8 444.2 587.3 444.9 587.8M456.6 596.3 456.6 596.3 457.4 596.9 458.2 597.5 459.0 598.1 459.8 598.7 460.6 599.3 461.4 599.9 462.1 600.5M473.1 609.3 473.2 609.3 474.0 609.9 474.8 610.6 475.5 611.2 476.3 611.8 477.1 612.5 477.9 613.1 478.4 613.6M488.9 622.3 488.9 622.3 489.7 623.0 490.5 623.6 491.2 624.3 492.0 624.9 492.8 625.6 493.5 626.2 494.0 626.7M504.5 635.7 504.7 635.8 505.4 636.5 506.2 637.1 506.9 637.8 507.7 638.5 508.5 639.1 509.2 639.8 509.7 640.2M520.3 649.5 520.5 649.7 521.2 650.4 522.0 651.0 522.7 651.7 523.5 652.3 524.2 653.0 525.0 653.7 525.4 654.0M535.7 663.2 535.7 663.2 536.5 663.9 537.2 664.5 538.0 665.2 538.7 665.8 539.5 666.5 540.2 667.2 540.7 667.6M551.0 676.7 551.2 676.9 552.0 677.6 552.7 678.2 553.5 678.9 554.2 679.5 555.0 680.2 555.7 680.9 556.1 681.2M566.6 690.5 566.7 690.5 567.5 691.2 568.2 691.9 569.0 692.5 569.7 693.2 570.5 693.8 571.2 694.5 571.8 695.0M582.2 704.1 582.3 704.2 583.0 704.8 583.8 705.5 584.5 706.1 585.3 706.8 586.0 707.5 586.8 708.1 587.4 708.7M597.9 717.9 598.1 718.0 598.8 718.6 599.6 719.3 600.3 720.0 601.1 720.6 601.9 721.3 602.6 721.9 603.2 722.4M613.8 731.7 613.9 731.8 614.7 732.4 615.4 733.1 616.2 733.8 616.9 734.4 617.7 735.1 618.4 735.7 619.0 736.2M629.5 745.3 629.5 745.3 630.3 746.0 631.0 746.7 631.8 747.3 632.5 748.0 633.3 748.6 634.1 749.3 634.6 749.8M645.0 758.8 645.1 758.9 645.9 759.6 646.6 760.2 647.4 760.9 648.2 761.5 648.9 762.2 649.7 762.8 650.2 763.3M660.8 772.5 661.0 772.7 661.8 773.3 662.5 774.0 663.3 774.6 664.0 775.3 664.8 775.9 665.6 776.6 666.1 777.0M676.7 786.2 676.9 786.4 677.7 787.1 678.4 787.7 679.2 788.4 679.9 789.1 680.7 789.7 681.4 790.4 681.9 790.8M692.5 800.0 692.8 800.2 693.5 800.9 694.3 801.5 695.1 802.2 695.8 802.8 696.6 803.5 697.3 804.1 697.8 804.5M708.3 813.7 708.4 813.8 709.2 814.4 709.9 815.1 710.7 815.7 711.4 816.4 712.2 817.0 713.0 817.7 713.5 818.2M724.0 827.3 724.0 827.3 724.8 828.0 725.6 828.6 726.3 829.3 727.1 830.0 727.8 830.6 728.6 831.3 729.2 831.8M739.8 841.0 739.9 841.1 740.7 841.8 741.4 842.4 742.2 843.1 742.9 843.7 743.7 844.4 744.5 845.1 745.0 845.5M755.6 854.7 755.8 854.9 756.5 855.6 757.3 856.2 758.1 856.9 758.8 857.5 759.6 858.2 760.3 858.8 760.8 859.3M771.4 868.4 771.4 868.5 772.1 869.1 772.9 869.8 773.7 870.4 774.4 871.1 775.2 871.8 775.9 872.4 776.6 873.0" stroke="#800000"/>
<path d="M118.5 835.7 118.6 835.4 118.7 834.1 118.8 832.8 118.9 831.5 119.1 830.2 119.2 828.9 119.3 827.6 119.3 827.1M120.1 818.6 120.1 818.6 120.1 818.3M120.8 809.7 120.8 809.5 120.9 808.2 121.1 806.9 121.2 805.7 121.3 804.4 121.4 803.1 121.5 801.8 121.5 801.1M122.2 792.5 122.2 792.5 122.2 792.2M122.9 783.7 122.9 783.5 123.0 782.2 123.1 780.9 123.3 779.6 123.4 778.3 123.5 777.1 123.6 775.8 123.6 775.1M124.4 766.5 124.4 766.5 124.4 766.2M125.2 757.7 125.2 757.5 125.3 756.2 125.4 754.9 125.5 753.7 125.7 752.4 125.8 751.1 125.9 749.8 126.0 749.1M126.9 740.6 126.9 740.6 126.9 740.3M127.8 731.8 127.9 731.6 128.0 730.3 128.2 729.0 128.3 727.8 128.4 726.5 128.6 725.2 128.8 723.9 128.8 723.2M129.9 714.8 129.9 714.7 129.9 714.5M131.0 706.0 131.1 705.7 131.2 704.4 131.4 703.2 131.6 701.9 131.8 700.6 131.9 699.3 132.1 698.0 132.2 697.4M133.4 688.9 133.5 688.8 133.5 688.6M134.8 680.2 134.8 680.1 135.0 678.9 135.2 677.6 135.4 676.3 135.6 675.0 135.8 673.7 136.0 672.5 136.1 671.6M137.6 663.3 137.6 663.2 137.7 663.0M139.4 654.6 139.4 654.3 139.7 653.1 140.0 651.8 140.2 650.5 140.5 649.3 140.8 648.0 141.1 646.7 141.2 646.2M143.3 637.9 143.4 637.7 143.4 637.6M145.7 629.4 145.8 629.3 146.1 628.0 146.5 626.8 146.9 625.6 147.3 624.3 147.7 623.1 148.1 621.9 148.4 621.1M151.4 613.1 151.4 613.1 151.5 612.8M154.7 605.1 154.8 605.0 155.3 603.8 155.8 602.7 156.4 601.5 157.0 600.3 157.5 599.2 158.1 598.0 158.4 597.4M162.6 590.2 162.7 589.9M167.2 583.4 167.3 583.3 168.0 582.2 168.8 581.2 169.6 580.2 170.4 579.2 171.2 578.3 172.1 577.3 172.2 577.2M177.7 571.5 177.9 571.4 177.9 571.3M183.8 566.4 184.0 566.3 185.0 565.5 186.1 564.8 187.1 564.1 188.2 563.4 189.2 562.7 190.2 562.1M196.9 558.5 197.1 558.4 197.2 558.3M204.6 555.3 204.7 555.2 205.9 554.8 207.1 554.4 208.4 554.0 209.6 553.6 210.8 553.3 212.1 552.9 212.4 552.8M220.3 551.0 220.6 551.0 220.6 551.0M229.0 549.7 229.2 549.7 230.5 549.5 231.8 549.4 233.1 549.2 234.4 549.1 235.6 549.0 236.9 548.9 237.5 548.9M246.0 548.6 246.3 548.6M255.0 548.6 255.1 548.6 256.4 548.6 257.7 548.6 259.0 548.6 260.3 548.7 261.6 548.7 262.9 548.7 263.8 548.8M272.4 549.1 272.7 549.1 272.7 549.1M281.4 549.6 281.7 549.7 283.0 549.7 284.3 549.8 285.6 549.9 286.9 550.0 288.2 550.1 289.5 550.3 290.2 550.3M298.9 551.1 299.2 551.2M307.7 552.2 307.9 552.2 309.1 552.4 310.4 552.5 311.7 552.7 313.0 552.9 314.3 553.1 315.5 553.2 316.3 553.4M324.8 554.7 325.1 554.8M333.5 556.3 333.6 556.4 334.9 556.6 336.2 556.9 337.4 557.1 338.7 557.4 340.0 557.6 341.2 557.9 342.0 558.1M350.3 560.0 350.6 560.1M358.9 562.3 359.0 562.3 360.2 562.7 361.5 563.0 362.7 563.4 363.9 563.7 365.2 564.1 366.4 564.4 367.2 564.7M375.3 567.3 375.6 567.4M383.4 570.1 383.5 570.1 384.7 570.6 385.9 571.0 387.1 571.5 388.3 572.0 389.5 572.4 390.7 572.9 391.3 573.1M398.9 576.3 399.0 576.3 399.2 576.4M406.5 579.7 406.7 579.8 407.8 580.3 409.0 580.9 410.2 581.4 411.3 582.0 412.5 582.6 413.6 583.2 413.9 583.3M421.0 587.0 421.1 587.0 421.3 587.1M428.3 591.1 428.4 591.1 429.5 591.8 430.6 592.4 431.7 593.1 432.8 593.8 433.9 594.4 435.0 595.1 435.4 595.3M442.2 599.7 442.3 599.8 442.4 599.9M449.3 604.7 449.5 604.8 450.5 605.5 451.6 606.3 452.6 607.1 453.6 607.8 454.7 608.6 455.7 609.4 456.1 609.7M462.7 614.9 462.8 615.0 462.9 615.1M469.7 620.8 469.9 621.0 470.9 621.9 471.8 622.7 472.8 623.6 473.8 624.4 474.7 625.3 475.7 626.1 476.4 626.7M482.8 632.7 482.8 632.7 483.1 632.9M489.6 639.1 489.7 639.2 490.6 640.1 491.5 641.0 492.4 641.9 493.4 642.8 494.3 643.7 495.2 644.6 496.2 645.5 496.2 645.5M502.6 651.8 502.9 652.1M509.2 658.3 509.3 658.4 510.2 659.3 511.2 660.2 512.1 661.1 513.0 662.0 513.9 662.9 514.9 663.8 515.6 664.6M522.0 670.8 522.0 670.8 522.2 671.0M528.4 677.0 528.5 677.1 529.4 678.0 530.4 678.9 531.3 679.8 532.2 680.7 533.2 681.6 534.1 682.5 534.7 683.1M541.0 689.1 541.1 689.1 541.2 689.3M547.4 695.2 547.6 695.4 548.5 696.2 549.5 697.1 550.4 698.0 551.3 698.9 552.3 699.8 553.2 700.7 553.7 701.2M559.9 707.1 560.0 707.1 560.2 707.3M566.4 713.2 566.6 713.3 567.5 714.2 568.4 715.1 569.4 716.0 570.3 716.8 571.3 717.7 572.2 718.6 572.7 719.1M579.0 725.0 579.0 725.0 579.2 725.2M585.5 731.1 585.6 731.2 586.6 732.1 587.5 733.0 588.4 733.8 589.4 734.7 590.3 735.6 591.3 736.5 591.8 737.0M598.1 742.9 598.3 743.1M604.7 749.0 604.7 749.0 605.7 749.9 606.6 750.8 607.6 751.7 608.5 752.5 609.5 753.4 610.4 754.3 611.1 755.0M617.5 760.9 617.5 760.9 617.7 761.1M624.3 767.1 624.4 767.2 625.3 768.1 626.3 769.0 627.2 769.8 628.2 770.7 629.1 771.6 630.1 772.5 630.9 773.2M637.4 779.3 637.7 779.5 637.7 779.5M644.3 785.6 644.5 785.8 645.5 786.7 646.4 787.6 647.4 788.4 648.3 789.3 649.3 790.2 650.2 791.0 651.1 791.8M657.7 797.9 657.9 798.0 658.0 798.1M664.6 804.2 664.8 804.3 665.7 805.2 666.7 806.1 667.6 807.0 668.6 807.8 669.5 808.7 670.5 809.6 671.2 810.3M677.9 816.3 678.1 816.5 678.1 816.5M684.6 822.5 684.7 822.6 685.7 823.5 686.6 824.4 687.6 825.2 688.6 826.1 689.5 827.0 690.5 827.9 691.1 828.5M697.6 834.4 697.8 834.6M704.2 840.4 704.3 840.5 705.2 841.4 706.2 842.2 707.1 843.1 708.1 844.0 709.0 844.8 710.0 845.7 710.7 846.3M717.0 852.2 717.1 852.2 717.3 852.4M723.7 858.2 723.8 858.3 724.7 859.2 725.7 860.1 726.6 861.0 727.6 861.8 728.5 862.7 729.5 863.6 730.1 864.1M736.5 870.0 736.6 870.1 736.7 870.2M743.1 876.1 743.3 876.2 743.5 876.4 743.8 876.7 744.0 876.9 744.2 877.1 744.5 877.3 744.7 877.5 744.9 877.7 745.2 878.0 745.4 878.2 745.7 878.4 745.9 878.6" stroke="#0000ff"/>
<path d="M118.3 859.6 118.4 859.3 118.5 858.4 118.6 857.6 118.7 856.7 118.9 855.8 119.0 854.9 119.1 854.1 119.1 853.7M120.2 845.5 120.2 845.4 120.2 845.2M121.2 837.0 121.2 837.0 121.3 836.7M122.2 828.4 122.2 828.3 122.3 827.4 122.4 826.5 122.5 825.6 122.6 824.8 122.7 823.9 122.8 823.0 122.9 822.2M123.8 814.0 123.9 813.8 123.9 813.7M124.8 805.4 124.9 805.3 124.9 805.1M125.9 796.8 125.9 796.7 126.1 795.8 126.2 794.9 126.3 794.1 126.4 793.2 126.5 792.3 126.6 791.4 126.7 790.7M127.9 782.6 127.9 782.5 128.0 782.3M129.3 774.2 129.3 774.1 129.3 773.9M130.7 765.9 130.8 765.8 130.9 764.9 131.1 764.1 131.2 763.2 131.4 762.3 131.6 761.5 131.7 760.6 131.9 759.9M133.5 751.9 133.6 751.8 133.6 751.6M135.4 743.5 135.4 743.5 135.5 743.2M137.4 735.2 137.5 735.0 137.7 734.1 137.9 733.3 138.1 732.4 138.3 731.6 138.6 730.7 138.8 729.9 139.0 729.2M141.2 721.1 141.3 720.8 141.3 720.8M143.8 712.7 143.8 712.7 143.9 712.4 143.9 712.4M146.5 704.4 146.5 704.3 146.8 703.5 147.1 702.7 147.4 701.8 147.7 701.0 148.0 700.2 148.3 699.4 148.6 698.5 148.6 698.5M151.5 690.8 151.6 690.6 151.6 690.5M154.7 683.0 154.8 682.8 154.9 682.8M158.2 675.4 158.3 675.2 158.7 674.4 159.1 673.6 159.5 672.8 159.9 672.1 160.3 671.3 160.7 670.5 160.9 670.0M164.9 662.7 165.0 662.6 165.1 662.5M169.5 655.3 169.5 655.2 169.6 655.0M174.4 648.1 174.5 648.0 175.0 647.3 175.5 646.6 176.1 645.9 176.6 645.3 177.2 644.6 177.7 643.9 178.2 643.2 178.3 643.1M183.7 636.7 183.7 636.7 183.9 636.5 183.9 636.5M189.7 630.3 189.8 630.3 190.0 630.1M196.1 624.3 196.2 624.2 196.8 623.6 197.5 623.0 198.2 622.4 198.8 621.8 199.5 621.3 200.2 620.7 200.8 620.1 200.8 620.1M207.4 614.9 207.5 614.8 207.7 614.7M214.4 609.9 214.4 609.9 214.6 609.7M221.6 605.3 221.8 605.2 222.5 604.7 223.3 604.3 224.0 603.8 224.8 603.4 225.5 603.0 226.3 602.5 226.9 602.2M234.4 598.3 234.5 598.2 234.6 598.1M242.5 594.5 242.6 594.4 242.8 594.3M250.8 591.1 251.0 591.0 251.8 590.7 252.6 590.4 253.4 590.0 254.2 589.7 255.1 589.4 255.9 589.2 256.7 588.9 256.9 588.8M265.4 586.0 265.6 586.0 265.7 585.9M273.8 583.6 274.0 583.6 274.1 583.5M282.4 581.5 282.5 581.5 283.4 581.3 284.2 581.1 285.1 580.9 286.0 580.8 286.8 580.6 287.7 580.4 288.5 580.2M296.6 578.8 296.6 578.8 296.9 578.7 296.9 578.7M305.0 577.6 305.1 577.6 305.3 577.5M313.3 576.7 313.5 576.7 314.4 576.6 315.3 576.5 316.2 576.4 317.1 576.4 317.9 576.3 318.8 576.3 319.3 576.2M327.3 575.9 327.3 575.9 327.6 575.8M335.8 575.8 335.8 575.8 336.1 575.8M344.3 576.0 344.3 576.0 345.2 576.0 346.1 576.1 347.0 576.1 347.8 576.2 348.7 576.2 349.6 576.3 350.4 576.3M358.5 577.1 358.6 577.1 358.8 577.1M366.9 578.2 367.0 578.2 367.2 578.2M375.2 579.7 375.3 579.7 376.2 579.9 377.0 580.0 377.9 580.2 378.7 580.4 379.6 580.6 380.4 580.8 381.2 581.0M389.1 583.0 389.2 583.1 389.3 583.1M397.1 585.5 397.2 585.6 397.4 585.6M405.0 588.5 405.1 588.5 406.0 588.8 406.8 589.2 407.6 589.5 408.4 589.8 409.2 590.2 410.0 590.5 410.6 590.8M417.9 594.2 418.0 594.2 418.2 594.3M425.5 598.2 425.8 598.3 425.8 598.3M432.9 602.5 433.1 602.6 433.9 603.0 434.6 603.5 435.3 604.0 436.1 604.4 436.8 604.9 437.6 605.4 438.1 605.7M444.8 610.3 444.8 610.3 445.1 610.5M451.7 615.4 451.9 615.6 451.9 615.6M458.3 620.8 458.4 620.9 459.1 621.5 459.8 622.0 460.4 622.6 461.1 623.2 461.7 623.8 462.4 624.3 463.0 624.9M469.2 630.6 469.2 630.7 469.4 630.8M475.4 636.7 475.5 636.8 475.6 636.9M481.3 643.0 481.5 643.1 482.1 643.8 482.7 644.4 483.3 645.0 483.9 645.7 484.4 646.3 485.0 647.0 485.6 647.6M491.2 654.0 491.2 654.0 491.4 654.2M496.9 660.7 497.0 660.9 497.1 661.0M502.4 667.6 502.6 667.8 503.1 668.4 503.7 669.1 504.2 669.8 504.8 670.5 505.3 671.2 505.9 671.9 506.4 672.6 506.5 672.6M511.9 679.5 512.0 679.7 512.1 679.8M517.3 686.5 517.4 686.7 517.5 686.7M522.6 693.4 522.6 693.4 523.2 694.1 523.7 694.8 524.2 695.5 524.8 696.2 525.3 696.9 525.9 697.6 526.4 698.3 526.5 698.3M531.5 704.9 531.6 705.0 531.7 705.1M536.8 711.6 536.8 711.7 537.0 711.9M542.1 718.4 542.2 718.6 542.8 719.2 543.3 719.9 543.9 720.6 544.4 721.3 545.0 722.0 545.5 722.7 546.0 723.4 546.1 723.4M551.5 730.2 551.5 730.2 551.7 730.4 551.7 730.4M557.2 737.1 557.2 737.2 557.4 737.4M562.8 744.0 563.0 744.2 563.5 744.8 564.1 745.5 564.7 746.2 565.2 746.8 565.8 747.5 566.3 748.2 566.9 748.8 567.0 748.9M572.6 755.6 572.8 755.7 572.8 755.8M578.4 762.2 578.5 762.3 578.6 762.4M584.3 768.8 584.3 768.8 584.9 769.5 585.5 770.1 586.1 770.8 586.7 771.4 587.3 772.1 587.9 772.7 588.4 773.4 588.6 773.5M594.3 779.8 594.4 779.8 594.5 780.0M600.1 786.1 600.3 786.3 600.3 786.3M605.9 792.3 606.1 792.5 606.7 793.1 607.3 793.8 607.9 794.4 608.5 795.1 609.1 795.7 609.7 796.4 610.1 796.8M615.6 802.8 615.7 802.8 615.8 803.0M621.4 809.1 621.5 809.1 621.6 809.3M627.1 815.4 627.1 815.5 627.7 816.1 628.3 816.8 628.9 817.4 629.5 818.1 630.0 818.8 630.6 819.4 631.2 820.0M636.5 826.3 636.5 826.3 636.6 826.5M641.9 833.0 641.9 833.1 642.1 833.2M647.2 839.8 647.3 839.9 647.8 840.6 648.3 841.3 648.8 842.0 649.4 842.7 649.9 843.4 650.4 844.1 650.9 844.8 651.0 844.8M656.1 851.7 656.1 851.7 656.2 851.9M661.3 858.9 661.4 859.0 661.4 859.1M666.4 866.1 666.5 866.2 667.0 866.9 667.6 867.6 668.1 868.3 668.6 869.1 669.1 869.8 669.6 870.5 670.1 871.2M675.0 878.0 675.2 878.3 675.2 878.3" stroke="#ff0000"/>
</g>
<path d="M109.90 873.55 v-6.10 M109.90 483.10 v6.10 M167.29 873.55 v-2.95 M167.29 483.10 v2.95 M224.68 873.55 v-6.10 M224.68 483.10 v6.10 M282.08 873.55 v-2.95 M282.08 483.10 v2.95 M339.47 873.55 v-6.10 M339.47 483.10 v6.10 M396.86 873.55 v-2.95 M396.86 483.10 v2.95 M454.25 873.55 v-6.10 M454.25 483.10 v6.10 M511.64 873.55 v-2.95 M511.64 483.10 v2.95 M569.03 873.55 v-6.10 M569.03 483.10 v6.10 M626.42 873.55 v-2.95 M626.42 483.10 v2.95 M683.82 873.55 v-6.10 M683.82 483.10 v6.10 M741.21 873.55 v-2.95 M741.21 483.10 v2.95 M798.60 873.55 v-6.10 M798.60 483.10 v6.10 M109.90 873.55 h2.95 M798.60 873.55 h-2.95 M109.90 867.36 h2.95 M798.60 867.36 h-2.95 M109.90 862.00 h2.95 M798.60 862.00 h-2.95 M109.90 857.26 h2.95 M798.60 857.26 h-2.95 M109.90 853.03 h6.10 M798.60 853.03 h-6.10 M109.90 825.19 h2.95 M798.60 825.19 h-2.95 M109.90 808.91 h2.95 M798.60 808.91 h-2.95 M109.90 797.35 h2.95 M798.60 797.35 h-2.95 M109.90 788.39 h2.95 M798.60 788.39 h-2.95 M109.90 781.07 h2.95 M798.60 781.07 h-2.95 M109.90 774.88 h2.95 M798.60 774.88 h-2.95 M109.90 769.51 h2.95 M798.60 769.51 h-2.95 M109.90 764.78 h2.95 M798.60 764.78 h-2.95 M109.90 760.55 h6.10 M798.60 760.55 h-6.10 M109.90 732.71 h2.95 M798.60 732.71 h-2.95 M109.90 716.42 h2.95 M798.60 716.42 h-2.95 M109.90 704.87 h2.95 M798.60 704.87 h-2.95 M109.90 695.91 h2.95 M798.60 695.91 h-2.95 M109.90 688.58 h2.95 M798.60 688.58 h-2.95 M109.90 682.39 h2.95 M798.60 682.39 h-2.95 M109.90 677.03 h2.95 M798.60 677.03 h-2.95 M109.90 672.30 h2.95 M798.60 672.30 h-2.95 M109.90 668.07 h6.10 M798.60 668.07 h-6.10 M109.90 640.23 h2.95 M798.60 640.23 h-2.95 M109.90 623.94 h2.95 M798.60 623.94 h-2.95 M109.90 612.39 h2.95 M798.60 612.39 h-2.95 M109.90 603.42 h2.95 M798.60 603.42 h-2.95 M109.90 596.10 h2.95 M798.60 596.10 h-2.95 M109.90 589.91 h2.95 M798.60 589.91 h-2.95 M109.90 584.55 h2.95 M798.60 584.55 h-2.95 M109.90 579.81 h2.95 M798.60 579.81 h-2.95 M109.90 575.58 h6.10 M798.60 575.58 h-6.10 M109.90 547.74 h2.95 M798.60 547.74 h-2.95 M109.90 531.46 h2.95 M798.60 531.46 h-2.95 M109.90 519.90 h2.95 M798.60 519.90 h-2.95 M109.90 510.94 h2.95 M798.60 510.94 h-2.95 M109.90 503.62 h2.95 M798.60 503.62 h-2.95 M109.90 497.43 h2.95 M798.60 497.43 h-2.95 M109.90 492.06 h2.95 M798.60 492.06 h-2.95 M109.90 487.33 h2.95 M798.60 487.33 h-2.95 M109.90 483.10 h6.10 M798.60 483.10 h-6.10" stroke="#000" stroke-width="1.35" fill="none"/>
<rect x="109.90" y="483.10" width="688.70" height="390.45" fill="none" stroke="#000" stroke-width="1.62"/>
<text transform="translate(109.90 901.75) scale(1 1.040)" font-size="27.00" text-anchor="middle">0.0</text>
<text transform="translate(224.68 901.75) scale(1 1.040)" font-size="27.00" text-anchor="middle">2.5</text>
<text transform="translate(339.47 901.75) scale(1 1.040)" font-size="27.00" text-anchor="middle">5.0</text>
<text transform="translate(454.25 901.75) scale(1 1.040)" font-size="27.00" text-anchor="middle">7.5</text>
<text transform="translate(570.03 901.75) scale(1 1.040)" font-size="27.00" text-anchor="middle">10.0</text>
<text transform="translate(684.82 901.75) scale(1 1.040)" font-size="27.00" text-anchor="middle">12.5</text>
<text transform="translate(799.60 901.75) scale(1 1.040)" font-size="27.00" text-anchor="middle">15.0</text>
<text transform="translate(101.60 864.33) scale(1 1.040)" font-size="27.00" text-anchor="end">10<tspan font-size="18.50" dy="-11.9" dx="-0.5">43</tspan></text>
<text transform="translate(101.60 771.85) scale(1 1.040)" font-size="27.00" text-anchor="end">10<tspan font-size="18.50" dy="-11.9" dx="-0.5">44</tspan></text>
<text transform="translate(101.60 679.37) scale(1 1.040)" font-size="27.00" text-anchor="end">10<tspan font-size="18.50" dy="-11.9" dx="-0.5">45</tspan></text>
<text transform="translate(101.60 586.88) scale(1 1.040)" font-size="27.00" text-anchor="end">10<tspan font-size="18.50" dy="-11.9" dx="-0.5">46</tspan></text>
<text transform="translate(101.60 494.40) scale(1 1.040)" font-size="27.00" text-anchor="end">10<tspan font-size="18.50" dy="-11.9" dx="-0.5">47</tspan></text>
<text transform="translate(29.90 678.62) scale(1.065 1.029) rotate(-90)" font-size="27.00" text-anchor="middle">S<tspan class="nu" font-size="17.50" dy="7.8" dx="0.6">ν</tspan><tspan dy="-7.8" dx="0.6"> [erg/sec/MeV]</tspan></text>
<rect x="465.60" y="502.10" width="83.10" height="39.10" fill="#000"/>
<rect x="460.60" y="497.10" width="83.10" height="39.10" fill="#fff" stroke="#000" stroke-width="0.6"/>
<text transform="translate(502.15 525.80) scale(1 1.065)" font-size="27.13" text-anchor="middle">LSSM</text>
<path d="M627.64 81.90 H689.26" stroke="#000000" stroke-width="2.68" stroke-linecap="round" fill="none"/>
<text transform="translate(704.10 91.80) scale(1 1.065)" font-size="27.00" text-anchor="start">0</text>
<path d="M627.64 115.37 H686.10" stroke="#800000" stroke-width="2.68" stroke-linecap="round" fill="none" stroke-dasharray="6.8 13.7"/>
<text transform="translate(704.10 125.27) scale(1 1.065)" font-size="27.00" text-anchor="start">NH</text>
<path d="M627.64 148.84 H689.26" stroke="#0000ff" stroke-width="2.68" stroke-linecap="round" fill="none" stroke-dasharray="8.7 8.45 0.3 8.45"/>
<text transform="translate(704.10 158.74) scale(1 1.065)" font-size="27.00" text-anchor="start">IH</text>
<path d="M627.64 182.31 H686.10" stroke="#ff0000" stroke-width="2.68" stroke-linecap="round" fill="none" stroke-dasharray="6.3 8.1 0.3 8.4 0.3 8.3"/>
<text transform="translate(704.10 192.21) scale(1 1.065)" font-size="27.00" text-anchor="start">ND</text>
<text transform="translate(454.25 946.00) scale(1 1.065)" font-size="27.00" text-anchor="middle">E<tspan class="nu" font-size="17.50" dy="8.3" dx="0.8">ν</tspan><tspan dy="-8.3" dx="0.3"> [MeV]</tspan></text>
</svg></body></html>
